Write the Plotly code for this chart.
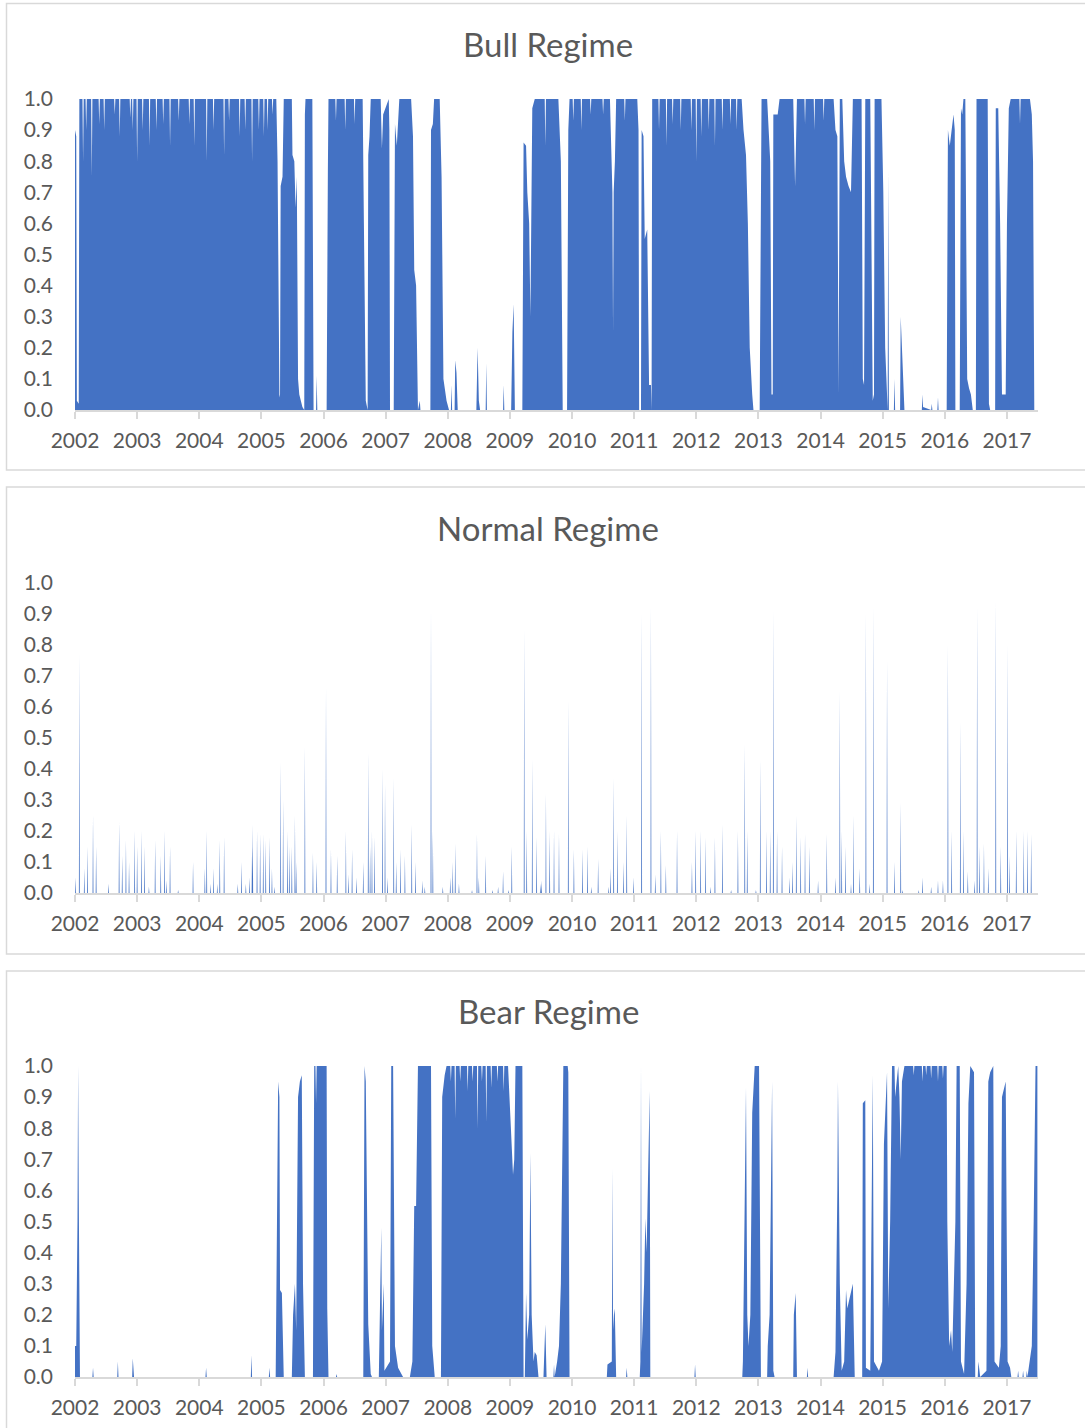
import plotly.graph_objects as go

# ---------------- data ----------------
year_ticks = [2002, 2003, 2004, 2005, 2006, 2007, 2008, 2009, 2010, 2011, 2012, 2013, 2014, 2015, 2016, 2017]
year_labels = [str(y) for y in year_ticks]
prob_ticks = [0.0, 0.1, 0.2, 0.3, 0.4, 0.5, 0.6, 0.7, 0.8, 0.9, 1.0]
prob_labels = ["0.0", "0.1", "0.2", "0.3", "0.4", "0.5", "0.6", "0.7", "0.8", "0.9", "1.0"]
panel_titles = ["Bull Regime", "Normal Regime", "Bear Regime"]

# Bull regime probability: (decimal year, probability)
bull_points = [
    (2002.00, 0.90), (2002.02, 0.88), (2002.03, 0.03), (2002.06, 0.02), (2002.07, 1.00),
    (2002.12, 1.00), (2002.13, 0.80), (2002.14, 1.00), (2002.17, 1.00), (2002.18, 0.90), (2002.19, 1.00),
    (2002.26, 1.00), (2002.27, 0.75), (2002.28, 1.00), (2002.38, 1.00), (2002.39, 0.92), (2002.40, 1.00),
    (2002.46, 1.00), (2002.47, 0.90), (2002.48, 1.00), (2002.63, 1.00), (2002.64, 0.95), (2002.65, 1.00),
    (2002.71, 1.00), (2002.72, 0.88), (2002.73, 1.00), (2002.88, 1.00), (2002.89, 0.94), (2002.90, 1.00),
    (2002.92, 1.00), (2002.93, 0.90), (2002.94, 1.00), (2002.99, 1.00), (2003.00, 0.80), (2003.01, 1.00),
    (2003.08, 1.00), (2003.09, 0.90), (2003.10, 1.00), (2003.19, 1.00), (2003.20, 0.85), (2003.21, 1.00),
    (2003.30, 1.00), (2003.31, 0.90), (2003.32, 1.00), (2003.41, 1.00), (2003.42, 0.92), (2003.43, 1.00),
    (2003.52, 1.00), (2003.53, 0.85), (2003.54, 1.00), (2003.66, 1.00), (2003.67, 0.93), (2003.68, 1.00),
    (2003.83, 1.00), (2003.84, 0.92), (2003.85, 1.00), (2003.91, 1.00), (2003.92, 0.85), (2003.93, 1.00),
    (2004.11, 1.00), (2004.12, 0.80), (2004.13, 1.00), (2004.22, 1.00), (2004.23, 0.90), (2004.24, 1.00),
    (2004.39, 1.00), (2004.40, 0.82), (2004.41, 1.00), (2004.47, 1.00), (2004.48, 0.93), (2004.49, 1.00),
    (2004.64, 1.00), (2004.65, 0.88), (2004.66, 1.00), (2004.73, 1.00), (2004.74, 0.90), (2004.75, 1.00),
    (2004.84, 1.00), (2004.85, 0.80), (2004.86, 1.00), (2004.95, 1.00), (2004.96, 0.90), (2004.97, 1.00),
    (2005.03, 1.00), (2005.04, 0.88), (2005.05, 1.00), (2005.09, 1.00), (2005.10, 0.90), (2005.11, 1.00),
    (2005.17, 1.00), (2005.18, 0.95), (2005.19, 1.00),
    (2005.24, 1.00), (2005.26, 0.80), (2005.28, 0.30), (2005.29, 0.04), (2005.30, 0.05), (2005.31, 0.72),
    (2005.34, 0.75), (2005.36, 1.00), (2005.49, 1.00), (2005.50, 0.82), (2005.53, 0.80), (2005.55, 0.65),
    (2005.57, 0.75), (2005.59, 0.10), (2005.61, 0.05), (2005.66, 0.01), (2005.69, 0.00),
    (2005.70, 0.95), (2005.71, 1.00), (2005.82, 1.00), (2005.84, 0.00), (2005.88, 0.00), (2005.89, 0.11),
    (2005.90, 0.00), (2006.05, 0.00), (2006.07, 0.77), (2006.08, 1.00),
    (2006.19, 1.00), (2006.20, 0.93), (2006.21, 1.00), (2006.34, 1.00), (2006.35, 0.90), (2006.36, 1.00),
    (2006.49, 1.00), (2006.50, 0.92), (2006.51, 1.00),
    (2006.63, 1.00), (2006.65, 0.60), (2006.68, 0.03), (2006.71, 0.00),
    (2006.72, 0.82), (2006.74, 0.88), (2006.76, 1.00), (2006.92, 1.00), (2006.94, 0.84), (2006.96, 0.95),
    (2007.05, 1.00), (2007.06, 0.90), (2007.07, 0.00), (2007.13, 0.00),
    (2007.15, 0.92), (2007.18, 0.85), (2007.22, 1.00), (2007.41, 1.00), (2007.44, 0.88), (2007.46, 0.45),
    (2007.49, 0.40), (2007.52, 0.00), (2007.55, 0.03), (2007.56, 0.00), (2007.72, 0.00),
    (2007.73, 0.90), (2007.76, 0.92), (2007.78, 1.00), (2007.87, 1.00), (2007.90, 0.75), (2007.93, 0.10),
    (2007.98, 0.03), (2008.02, 0.00), (2008.05, 0.00), (2008.06, 0.08), (2008.07, 0.00), (2008.11, 0.00),
    (2008.12, 0.16), (2008.14, 0.12), (2008.16, 0.00), (2008.46, 0.00), (2008.48, 0.20), (2008.50, 0.03),
    (2008.52, 0.00), (2008.61, 0.00), (2008.62, 0.15), (2008.63, 0.00), (2008.89, 0.00), (2008.90, 0.08),
    (2008.91, 0.00), (2009.02, 0.00), (2009.04, 0.25), (2009.06, 0.34), (2009.08, 0.00),
    (2009.20, 0.00), (2009.22, 0.86), (2009.26, 0.85), (2009.28, 0.70), (2009.31, 0.60), (2009.33, 0.30),
    (2009.36, 0.97), (2009.40, 1.00), (2009.56, 1.00), (2009.57, 0.85), (2009.58, 1.00), (2009.78, 1.00),
    (2009.80, 0.90), (2009.82, 0.80), (2009.85, 0.00), (2009.92, 0.00), (2009.94, 0.90), (2009.96, 1.00),
    (2010.01, 1.00), (2010.02, 0.93), (2010.03, 1.00), (2010.14, 1.00), (2010.15, 0.90), (2010.16, 1.00),
    (2010.29, 1.00), (2010.30, 0.95), (2010.31, 1.00), (2010.49, 1.00), (2010.50, 0.95), (2010.51, 1.00),
    (2010.61, 1.00), (2010.63, 0.85), (2010.65, 0.70), (2010.66, 0.25), (2010.67, 0.70), (2010.69, 0.80),
    (2010.71, 1.00), (2010.84, 1.00), (2010.85, 0.93), (2010.86, 1.00),
    (2011.05, 1.00), (2011.07, 0.90), (2011.08, 0.00), (2011.11, 0.00), (2011.12, 0.90), (2011.15, 0.88),
    (2011.17, 0.55), (2011.21, 0.58), (2011.24, 0.08), (2011.27, 0.08), (2011.28, 0.00), (2011.29, 1.00),
    (2011.39, 1.00), (2011.40, 0.90), (2011.41, 1.00), (2011.51, 1.00), (2011.52, 0.85), (2011.53, 1.00),
    (2011.61, 1.00), (2011.62, 0.92), (2011.63, 1.00), (2011.74, 1.00), (2011.75, 0.90), (2011.76, 1.00),
    (2011.91, 1.00), (2011.92, 0.90), (2011.93, 1.00), (2011.99, 1.00), (2012.00, 0.80), (2012.01, 1.00),
    (2012.07, 1.00), (2012.08, 0.88), (2012.09, 1.00), (2012.19, 1.00), (2012.20, 0.90), (2012.21, 1.00),
    (2012.29, 1.00), (2012.30, 0.85), (2012.31, 1.00), (2012.41, 1.00), (2012.42, 0.90), (2012.43, 1.00),
    (2012.54, 1.00), (2012.55, 0.92), (2012.56, 1.00), (2012.64, 1.00), (2012.65, 0.90), (2012.66, 1.00),
    (2012.73, 1.00), (2012.76, 0.90), (2012.80, 0.82), (2012.83, 0.60), (2012.86, 0.20), (2012.90, 0.05),
    (2012.92, 0.00), (2013.02, 0.00), (2013.04, 0.90), (2013.05, 1.00),
    (2013.14, 1.00), (2013.17, 0.85), (2013.19, 0.80), (2013.21, 0.05), (2013.23, 0.05), (2013.24, 0.95),
    (2013.31, 0.95), (2013.34, 1.00), (2013.56, 1.00), (2013.59, 0.72), (2013.62, 1.00),
    (2013.74, 1.00), (2013.75, 0.92), (2013.76, 1.00), (2013.89, 1.00), (2013.90, 0.90), (2013.91, 1.00),
    (2014.04, 1.00), (2014.05, 0.93), (2014.06, 1.00),
    (2014.21, 1.00), (2014.24, 0.90), (2014.27, 0.88), (2014.29, 0.05), (2014.31, 1.00), (2014.35, 1.00),
    (2014.38, 0.80), (2014.41, 0.75), (2014.45, 0.72), (2014.49, 0.70), (2014.52, 1.00), (2014.66, 1.00),
    (2014.68, 0.10), (2014.70, 0.08), (2014.72, 1.00), (2014.80, 1.00), (2014.82, 0.40), (2014.84, 0.03),
    (2014.86, 0.05), (2014.87, 1.00), (2014.98, 1.00), (2015.01, 0.70), (2015.04, 0.20), (2015.07, 0.00),
    (2015.08, 0.00), (2015.09, 0.77), (2015.10, 0.00), (2015.18, 0.00), (2015.19, 0.10), (2015.20, 0.00),
    (2015.28, 0.00), (2015.29, 0.30), (2015.31, 0.20), (2015.33, 0.05), (2015.35, 0.00),
    (2015.63, 0.00), (2015.64, 0.05), (2015.65, 0.01), (2015.78, 0.00), (2015.79, 0.02), (2015.80, 0.00),
    (2015.88, 0.00), (2015.89, 0.04), (2015.90, 0.00),
    (2016.03, 0.00), (2016.05, 0.90), (2016.08, 0.85), (2016.11, 0.90), (2016.14, 0.95), (2016.16, 0.90),
    (2016.17, 0.00), (2016.24, 0.00), (2016.26, 0.97), (2016.28, 0.95), (2016.30, 1.00), (2016.33, 1.00),
    (2016.36, 0.10), (2016.39, 0.07), (2016.42, 0.05), (2016.45, 0.00), (2016.50, 0.00), (2016.51, 1.00),
    (2016.69, 1.00), (2016.71, 0.02), (2016.73, 0.00), (2016.81, 0.00), (2016.82, 0.97), (2016.86, 0.97),
    (2016.89, 0.60), (2016.92, 0.05), (2016.98, 0.05), (2017.00, 0.60), (2017.03, 0.97), (2017.06, 1.00),
    (2017.20, 1.00), (2017.21, 0.92), (2017.22, 1.00),
    (2017.37, 1.00), (2017.40, 0.95), (2017.42, 0.80), (2017.44, 0.00),
]

# Normal regime: isolated daily spikes (decimal year, probability)
normal_times = [
    2002.01, 2002.07, 2002.15, 2002.20, 2002.29, 2002.34, 2002.54, 2002.71, 2002.76, 2002.82, 2002.87, 2002.96,
    2003.00, 2003.07, 2003.12, 2003.19, 2003.29, 2003.38, 2003.44, 2003.47, 2003.53, 2003.66, 2003.90,
    2004.09, 2004.12, 2004.18, 2004.23, 2004.29, 2004.33, 2004.40, 2004.62, 2004.68, 2004.75, 2004.81, 2004.85,
    2004.86, 2004.93, 2004.98, 2005.03, 2005.07, 2005.13, 2005.17, 2005.21, 2005.31, 2005.35, 2005.42, 2005.45,
    2005.49, 2005.54, 2005.56, 2005.70, 2005.83, 2005.89, 2006.04, 2006.12, 2006.22, 2006.36, 2006.40, 2006.46,
    2006.53, 2006.64, 2006.72, 2006.75, 2006.78, 2006.82, 2006.95, 2006.99, 2007.03, 2007.13, 2007.17, 2007.24,
    2007.31, 2007.42, 2007.48, 2007.59, 2007.63, 2007.73, 2007.76, 2007.92, 2008.04, 2008.08, 2008.12, 2008.18,
    2008.39, 2008.47, 2008.50, 2008.61, 2008.72, 2008.81, 2008.89, 2008.98, 2009.03, 2009.23, 2009.27, 2009.36,
    2009.43, 2009.49, 2009.51, 2009.58, 2009.64, 2009.71, 2009.79, 2009.94, 2010.03, 2010.17, 2010.25, 2010.31,
    2010.42, 2010.59, 2010.62, 2010.67, 2010.73, 2010.83, 2010.88, 2010.99, 2011.12, 2011.27, 2011.34, 2011.43,
    2011.51, 2011.69, 2011.93, 2011.99, 2012.07, 2012.15, 2012.23, 2012.30, 2012.42, 2012.56, 2012.67, 2012.78,
    2012.82, 2012.96, 2013.03, 2013.13, 2013.19, 2013.24, 2013.30, 2013.38, 2013.50, 2013.55, 2013.61, 2013.68,
    2013.75, 2013.82, 2013.96, 2014.10, 2014.24, 2014.31, 2014.34, 2014.40, 2014.49, 2014.53, 2014.63, 2014.73,
    2014.79, 2014.85, 2015.07, 2015.19, 2015.29, 2015.32, 2015.58, 2015.64, 2015.78, 2015.89, 2015.97, 2016.05,
    2016.11, 2016.25, 2016.30, 2016.37, 2016.48, 2016.52, 2016.56, 2016.63, 2016.70, 2016.82, 2016.90, 2017.01,
    2017.04, 2017.15, 2017.27, 2017.33, 2017.39,
]
normal_values = [
    0.05, 0.77, 0.08, 0.15, 0.25, 0.15, 0.03, 0.23, 0.12, 0.17, 0.10, 0.20,
    0.15, 0.20, 0.15, 0.02, 0.17, 0.12, 0.20, 0.04, 0.15, 0.01, 0.10,
    0.08, 0.20, 0.03, 0.08, 0.03, 0.17, 0.18, 0.03, 0.10, 0.03, 0.05, 0.15,
    0.22, 0.20, 0.19, 0.19, 0.17, 0.18, 0.08, 0.02, 0.42, 0.30, 0.20, 0.15,
    0.15, 0.25, 0.10, 0.47, 0.13, 0.10, 0.66, 0.14, 0.12, 0.20, 0.06, 0.14,
    0.05, 0.10, 0.45, 0.15, 0.20, 0.18, 0.40, 0.35, 0.05, 0.37, 0.10, 0.14,
    0.12, 0.22, 0.10, 0.04, 0.02, 0.91, 0.20, 0.02, 0.05, 0.10, 0.16, 0.03,
    0.01, 0.19, 0.05, 0.12, 0.01, 0.02, 0.07, 0.01, 0.15, 0.85, 0.20, 0.43,
    0.18, 0.03, 0.04, 0.32, 0.20, 0.20, 0.19, 0.62, 0.14, 0.14, 0.15, 0.02,
    0.11, 0.02, 0.08, 0.37, 0.20, 0.10, 0.25, 0.05, 0.90, 0.92, 0.06, 0.20,
    0.09, 0.20, 0.10, 0.20, 0.20, 0.18, 0.02, 0.18, 0.22, 0.01, 0.20, 0.48,
    0.20, 0.01, 0.43, 0.20, 0.20, 0.91, 0.20, 0.15, 0.05, 0.10, 0.25, 0.18,
    0.19, 0.15, 0.04, 0.19, 0.05, 0.65, 0.20, 0.15, 0.03, 0.25, 0.08, 0.90,
    0.03, 0.92, 0.75, 0.10, 0.29, 0.01, 0.01, 0.05, 0.02, 0.04, 0.04, 0.80,
    0.20, 0.55, 0.20, 0.07, 0.04, 0.92, 0.15, 0.16, 0.08, 0.94, 0.15, 0.80,
    0.12, 0.20, 0.20, 0.20, 0.19,
]

# Bear regime probability: (decimal year, probability)
bear_points = [
    (2002.00, 0.10), (2002.02, 0.10), (2002.04, 0.50), (2002.05, 1.00), (2002.06, 0.60), (2002.08, 0.00),
    (2002.28, 0.00), (2002.29, 0.03), (2002.30, 0.00), (2002.68, 0.00), (2002.69, 0.05), (2002.70, 0.00),
    (2002.92, 0.00), (2002.93, 0.06), (2002.95, 0.00), (2004.10, 0.00), (2004.11, 0.03), (2004.12, 0.00),
    (2004.83, 0.00), (2004.84, 0.07), (2004.85, 0.00), (2005.12, 0.00), (2005.13, 0.03), (2005.14, 0.00),
    (2005.23, 0.00), (2005.25, 0.60), (2005.27, 0.95), (2005.29, 0.90), (2005.30, 0.28), (2005.33, 0.27),
    (2005.36, 0.00), (2005.49, 0.00), (2005.51, 0.20), (2005.54, 0.30), (2005.56, 0.15), (2005.59, 0.90),
    (2005.62, 0.95), (2005.65, 0.97), (2005.67, 0.30), (2005.70, 0.00),
    (2005.83, 0.00), (2005.85, 1.00), (2005.87, 1.00), (2005.88, 0.88), (2005.89, 1.00), (2006.05, 1.00),
    (2006.06, 0.22), (2006.08, 0.00), (2006.20, 0.00), (2006.21, 0.01), (2006.22, 0.00),
    (2006.64, 0.00), (2006.66, 1.00), (2006.68, 0.95), (2006.70, 0.60), (2006.72, 0.17), (2006.76, 0.01),
    (2006.78, 0.00), (2006.89, 0.00), (2006.91, 0.20), (2006.93, 0.48), (2006.94, 0.15), (2006.97, 0.30),
    (2006.98, 0.02), (2007.07, 0.05), (2007.09, 1.00), (2007.12, 1.00), (2007.15, 0.10), (2007.20, 0.03),
    (2007.28, 0.00), (2007.39, 0.00), (2007.43, 0.05), (2007.46, 0.55), (2007.49, 0.55), (2007.52, 1.00),
    (2007.73, 1.00), (2007.75, 0.10), (2007.79, 0.00), (2007.89, 0.00), (2007.91, 0.90), (2007.95, 0.97),
    (2007.98, 1.00),
    (2008.04, 1.00), (2008.05, 0.95), (2008.06, 1.00), (2008.11, 1.00), (2008.12, 0.83), (2008.13, 1.00),
    (2008.19, 1.00), (2008.20, 0.95), (2008.21, 1.00), (2008.31, 1.00), (2008.32, 0.92), (2008.33, 1.00),
    (2008.39, 1.00), (2008.40, 0.95), (2008.41, 1.00), (2008.47, 1.00), (2008.48, 0.80), (2008.49, 1.00),
    (2008.54, 1.00), (2008.55, 0.95), (2008.56, 1.00), (2008.61, 1.00), (2008.62, 0.82), (2008.63, 1.00),
    (2008.69, 1.00), (2008.70, 0.93), (2008.71, 1.00), (2008.79, 1.00), (2008.80, 0.95), (2008.81, 1.00),
    (2008.89, 1.00), (2008.90, 0.92), (2008.91, 1.00),
    (2008.97, 1.00), (2009.00, 0.85), (2009.03, 0.75), (2009.05, 0.65), (2009.07, 0.70), (2009.09, 1.00),
    (2009.20, 1.00), (2009.22, 0.00), (2009.24, 0.00), (2009.26, 0.27), (2009.28, 0.12), (2009.31, 0.20),
    (2009.33, 0.72), (2009.35, 0.20), (2009.38, 0.05), (2009.40, 0.08), (2009.43, 0.07), (2009.46, 0.00),
    (2009.54, 0.00), (2009.56, 0.12), (2009.57, 0.17), (2009.59, 0.00), (2009.70, 0.00), (2009.71, 0.04),
    (2009.72, 0.00), (2009.76, 0.05), (2009.79, 0.10), (2009.82, 0.30), (2009.86, 1.00), (2009.93, 1.00),
    (2009.94, 0.98), (2009.96, 0.00),
    (2010.56, 0.00), (2010.57, 0.04), (2010.64, 0.05), (2010.65, 0.67), (2010.66, 0.15), (2010.68, 0.22),
    (2010.69, 0.20), (2010.71, 0.00), (2010.87, 0.00), (2010.88, 0.03), (2010.89, 0.00),
    (2011.09, 0.00), (2011.10, 0.05), (2011.11, 1.00), (2011.12, 0.08), (2011.16, 0.30), (2011.18, 0.51),
    (2011.20, 0.40), (2011.23, 0.70), (2011.25, 0.92), (2011.26, 0.00),
    (2011.97, 0.00), (2011.98, 0.04), (2011.99, 0.00),
    (2012.74, 0.00), (2012.75, 0.05), (2012.77, 0.40), (2012.80, 0.93), (2012.82, 0.20), (2012.84, 0.10),
    (2012.87, 0.20), (2012.90, 0.85), (2012.94, 1.00), (2013.01, 1.00), (2013.04, 0.00),
    (2013.14, 0.00), (2013.15, 0.10), (2013.18, 0.20), (2013.22, 0.95), (2013.24, 0.02), (2013.26, 0.00),
    (2013.56, 0.00), (2013.57, 0.20), (2013.60, 0.27), (2013.62, 0.00), (2013.78, 0.00), (2013.79, 0.03),
    (2013.80, 0.00),
    (2014.21, 0.00), (2014.24, 0.08), (2014.27, 0.60), (2014.28, 0.95), (2014.31, 0.30), (2014.34, 0.02),
    (2014.38, 0.05), (2014.41, 0.28), (2014.43, 0.22), (2014.46, 0.25), (2014.49, 0.27), (2014.52, 0.30),
    (2014.55, 0.00), (2014.67, 0.00), (2014.68, 0.88), (2014.72, 0.89), (2014.73, 0.03), (2014.80, 0.02),
    (2014.84, 0.97), (2014.86, 0.05), (2014.94, 0.02), (2014.99, 0.05), (2015.02, 0.75), (2015.07, 0.98),
    (2015.09, 0.22), (2015.12, 0.50), (2015.15, 1.00), (2015.19, 1.00), (2015.20, 0.90), (2015.22, 0.95),
    (2015.25, 1.00), (2015.27, 0.90), (2015.29, 0.70), (2015.31, 0.95), (2015.35, 1.00),
    (2015.49, 1.00), (2015.50, 0.97), (2015.51, 1.00), (2015.63, 1.00), (2015.64, 0.95), (2015.65, 1.00),
    (2015.69, 1.00), (2015.70, 0.97), (2015.71, 1.00), (2015.77, 1.00), (2015.78, 0.96), (2015.79, 1.00),
    (2015.88, 1.00), (2015.89, 0.95), (2015.90, 1.00), (2015.96, 1.00), (2015.97, 0.96), (2015.98, 1.00),
    (2016.03, 1.00), (2016.04, 0.50), (2016.07, 0.10), (2016.10, 0.15), (2016.12, 0.08), (2016.17, 0.50),
    (2016.19, 1.00), (2016.24, 1.00), (2016.26, 0.05), (2016.31, 0.01), (2016.35, 0.30), (2016.38, 0.88),
    (2016.41, 1.00), (2016.47, 0.98), (2016.49, 0.00), (2016.53, 0.00), (2016.54, 0.05), (2016.57, 0.00),
    (2016.67, 0.02), (2016.70, 0.95), (2016.73, 0.98), (2016.78, 1.00), (2016.80, 0.05), (2016.87, 0.03),
    (2016.90, 0.10), (2016.92, 0.90), (2016.98, 0.95), (2017.01, 0.05), (2017.05, 0.03), (2017.07, 0.00),
    (2017.17, 0.00), (2017.18, 0.02), (2017.19, 0.00), (2017.25, 0.00), (2017.26, 0.02), (2017.27, 0.00),
    (2017.31, 0.00), (2017.32, 0.02), (2017.33, 0.00), (2017.37, 0.05), (2017.40, 0.10), (2017.43, 0.50),
    (2017.46, 1.00), (2017.49, 1.00),
]

# ---------------- styling / layout ----------------
W, H = 1085, 1428
BLUE = "#4472C4"
TEXT = "#595959"
GRID = "#d9d9d9"
FONT = "Lato, Carlito, Calibri, 'Open Sans', sans-serif"
SPIKE_HALF_WIDTH = 0.007  # years

X_LEFT, X_RIGHT = 75, 1038          # pixel extent of the plot area
X_RANGE = [2002, 2002 + (X_RIGHT - X_LEFT) / 62.13]
panels = [  # (pixel y of 1.0, pixel y of 0.0, title y, box top, box bottom)
    (99, 410, 44, 3.5, 470),
    (583, 893, 528, 487, 954),
    (1066, 1377, 1011, 971, 1440),
]


def px_x(p):
    return p / W


def px_y(p):
    return 1 - p / H


bx, by = zip(*bull_points)
ex, ey = zip(*bear_points)
nx, ny = [X_RANGE[0]], [0.0]
for t, v in zip(normal_times, normal_values):
    nx += [t - SPIKE_HALF_WIDTH, t, t + SPIKE_HALF_WIDTH]
    ny += [0.0, v, 0.0]

series = [(list(bx), list(by)), (nx, ny), (list(ex), list(ey))]

fig = go.Figure()
for i, (xs, ys) in enumerate(series):
    sfx = "" if i == 0 else str(i + 1)
    fig.add_trace(go.Scatter(
        x=xs, y=ys, mode="lines", fill="tozeroy",
        line=dict(width=0, color=BLUE), fillcolor=BLUE,
        xaxis="x" + sfx, yaxis="y" + sfx, hoverinfo="skip", showlegend=False,
    ))

layout = dict(
    template="none",
    width=W, height=H, autosize=False,
    margin=dict(l=0, r=0, t=0, b=0, pad=0, autoexpand=False),
    paper_bgcolor="white", plot_bgcolor="white",
    font=dict(family=FONT, color=TEXT, size=21),
    showlegend=False, shapes=[], annotations=[],
)

for i, (ytop, ybot, ttl, btop, bbot) in enumerate(panels):
    sfx = "" if i == 0 else str(i + 1)
    layout["xaxis" + sfx] = dict(
        domain=[px_x(X_LEFT), px_x(X_RIGHT)], range=X_RANGE, automargin=False,
        anchor="y" + sfx, tickmode="array", tickvals=year_ticks, ticktext=year_labels,
        showline=True, linecolor=GRID, linewidth=1.5,
        ticks="outside", ticklen=7, tickcolor=GRID, tickwidth=1.5,
        showgrid=False, zeroline=False, fixedrange=True,
        tickfont=dict(family=FONT, size=21, color=TEXT), ticklabelstandoff=4,
    )
    layout["yaxis" + sfx] = dict(
        domain=[px_y(ybot), px_y(ytop)], range=[0, 1], automargin=False,
        anchor="x" + sfx, tickmode="array", tickvals=prob_ticks, ticktext=prob_labels,
        showline=False, ticks="", showgrid=False, zeroline=False, fixedrange=True,
        tickfont=dict(family=FONT, size=21, color=TEXT), ticklabelstandoff=21,
    )
    layout["shapes"].append(dict(
        type="rect", xref="paper", yref="paper",
        x0=px_x(6.5), x1=px_x(1095), y0=px_y(bbot), y1=px_y(btop),
        line=dict(color=GRID, width=1.5), fillcolor="rgba(0,0,0,0)", layer="below",
    ))
    layout["annotations"].append(dict(
        text=panel_titles[i], xref="paper", yref="paper",
        x=px_x(548), y=px_y(ttl), xanchor="center", yanchor="middle",
        showarrow=False, font=dict(family=FONT, size=33, color=TEXT),
    ))

fig.update_layout(**layout)
fig.write_html(
    "out.html",
    config={"responsive": False, "displayModeBar": False},
    default_width="1085px", default_height="1428px",
    post_script="document.body.style.margin='0';document.body.style.padding='0';",
)
